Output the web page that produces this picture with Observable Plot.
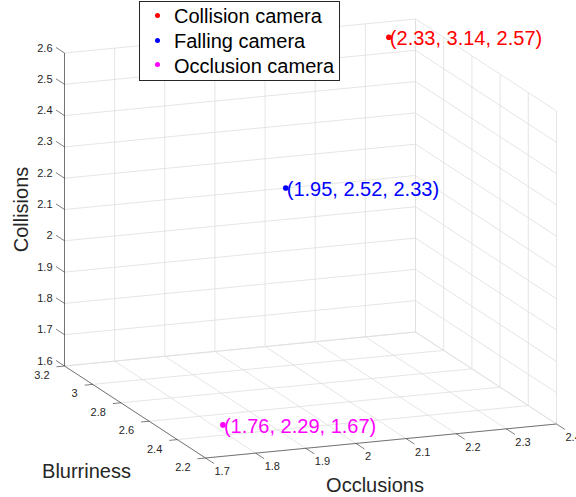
<!DOCTYPE html>
<html><head><meta charset="utf-8">
<script src="https://cdn.jsdelivr.net/npm/d3@7"></script>
<script src="https://cdn.jsdelivr.net/npm/@observablehq/plot@0.6"></script>
<style>
body{margin:0;background:#fff;}
#wrap{position:relative;width:576px;height:497px;font-family:"Liberation Sans",Arial,sans-serif;}
#legend{position:absolute;left:139px;top:1px;width:199px;height:78px;border:1px solid #262626;background:#fff;}
.row{position:absolute;left:0;height:25px;line-height:25px;font-size:20px;color:#000;white-space:nowrap;}
.dot{position:absolute;width:5px;height:5px;border-radius:50%;left:15px;}
.lab{position:absolute;left:34px;top:0;}
</style></head>
<body><div id="wrap"><div id="chart"></div><div id="legend"></div></div>
<script>
// ---- data ----
const cameras = ["Collision camera", "Falling camera", "Occlusion camera"];
const occlusions = [2.33, 1.95, 1.76];
const blurriness = [3.14, 2.52, 2.29];
const collisions = [2.57, 2.33, 1.67];
const colors = ["#ff0000", "#0000ff", "#ff00ff"];

const occTicks = [1.7, 1.8, 1.9, 2.0, 2.1, 2.2, 2.3, 2.4];
const occTickLabels = ["1.7", "1.8", "1.9", "2", "2.1", "2.2", "2.3", "2.4"];
const blurTicks = [2.2, 2.4, 2.6, 2.8, 3.0, 3.2];
const blurTickLabels = ["2.2", "2.4", "2.6", "2.8", "3", "3.2"];
const colTicks = [1.6, 1.7, 1.8, 1.9, 2.0, 2.1, 2.2, 2.3, 2.4, 2.5, 2.6];
const colTickLabels = ["1.6", "1.7", "1.8", "1.9", "2", "2.1", "2.2", "2.3", "2.4", "2.5", "2.6"];

const occDomain = [1.7, 2.4], blurDomain = [2.2, 3.2], colDomain = [1.6, 2.6];

// ---- projection (orthographic view) ----
function mk(domain) {
  if (Plot.scale) { try { const s = Plot.scale({x: {domain, range: [0, 1]}}); return v => s.apply(v); } catch (e) {} }
  const s = d3.scaleLinear().domain(domain).range([0, 1]); return v => s(v);
}
const su = mk(occDomain), sv = mk(blurDomain), sw = mk(colDomain);
const O = [205, 457.5], AX = [351, -34], AY = [-141, -92], AZ = [0, -313];
function P(a, b, c) {
  const u = su(a), v = sv(b), w = sw(c);
  return [O[0] + u * AX[0] + v * AY[0] + w * AZ[0], O[1] + u * AX[1] + v * AY[1] + w * AZ[1]];
}
function seg(p, q, extra = {}) { return {x1: p[0], y1: p[1], x2: q[0], y2: q[1], ...extra}; }

const [x0, x1] = occDomain, [y0, y1] = blurDomain, [z0, z1] = colDomain;
const grid = [];
// back wall (y = max)
occTicks.forEach(x => grid.push(seg(P(x, y1, z0), P(x, y1, z1))));
colTicks.forEach(z => grid.push(seg(P(x0, y1, z), P(x1, y1, z))));
// right wall (x = max)
blurTicks.forEach(y => grid.push(seg(P(x1, y, z0), P(x1, y, z1))));
colTicks.forEach(z => grid.push(seg(P(x1, y0, z), P(x1, y1, z))));
// floor (z = min)
occTicks.forEach(x => grid.push(seg(P(x, y0, z0), P(x, y1, z0))));
blurTicks.forEach(y => grid.push(seg(P(x0, y, z0), P(x1, y, z0))));

const axes = [
  seg(P(x0, y0, z0), P(x1, y0, z0)),
  seg(P(x0, y0, z0), P(x0, y1, z0)),
  seg(P(x0, y1, z0), P(x0, y1, z1))
];
const ticks = [];
occTicks.forEach(x => ticks.push(seg(P(x, y0, z0), P(x, y0 - 0.06, z0))));
blurTicks.forEach(y => ticks.push(seg(P(x0, y, z0), P(x0 - 0.016, y, z0))));
colTicks.forEach(z => ticks.push(seg(P(x0, y1, z), P(x0, y1 + 0.06, z))));

const occLab = occTicks.map((x, i) => { const p = P(x, y0, z0); return {x: p[0], y: p[1], t: occTickLabels[i]}; });
const blurLab = blurTicks.map((y, i) => { const p = P(x0, y, z0); return {x: p[0], y: p[1], t: blurTickLabels[i]}; });
const colLab = colTicks.map((z, i) => { const p = P(x0, y1, z); return {x: p[0], y: p[1], t: colTickLabels[i]}; });

const pts = cameras.map((c, i) => {
  const p = P(occlusions[i], blurriness[i], collisions[i]);
  return {x: p[0], y: p[1], c: colors[i],
    t: `(${occlusions[i].toFixed(2)}, ${blurriness[i].toFixed(2)}, ${collisions[i].toFixed(2)})`};
});

const midZ = P(x0, y1, (z0 + z1) / 2), midY = P(x0, (y0 + y1) / 2, z0), midX = P((x0 + x1) / 2, y0, z0);
const FF = "Liberation Sans, Arial, sans-serif";
const tickStyle = {fontSize: 11, fill: "#262626", fontFamily: FF};

const chart = Plot.plot({
  width: 576, height: 497, margin: 0,
  x: {type: "identity", axis: null}, y: {type: "identity", axis: null},
  style: {fontFamily: FF, background: "#fff"},
  marks: [
    Plot.link(grid, {x1: "x1", y1: "y1", x2: "x2", y2: "y2", stroke: "#dedede", strokeWidth: 0.8}),
    Plot.link(axes, {x1: "x1", y1: "y1", x2: "x2", y2: "y2", stroke: "#262626", strokeWidth: 0.6}),
    Plot.link(ticks, {x1: "x1", y1: "y1", x2: "x2", y2: "y2", stroke: "#262626", strokeWidth: 0.6}),
    Plot.text(occLab, {x: "x", y: "y", text: "t", textAnchor: "start", lineAnchor: "middle", dx: 9, dy: 13.5, ...tickStyle}),
    Plot.text(blurLab, {x: "x", y: "y", text: "t", textAnchor: "end", lineAnchor: "middle", dx: -15, dy: 9.5, ...tickStyle}),
    Plot.text(colLab, {x: "x", y: "y", text: "t", textAnchor: "end", lineAnchor: "middle", dx: -12, dy: -5, ...tickStyle}),
    Plot.text([{x: midZ[0], y: midZ[1]}], {x: "x", y: "y", text: () => "Collisions", rotate: -90, textAnchor: "middle", lineAnchor: "middle", dx: -43, fontSize: 20, fill: "#262626", fontFamily: FF}),
    Plot.text([{x: midY[0], y: midY[1]}], {x: "x", y: "y", text: () => "Blurriness", textAnchor: "middle", lineAnchor: "bottom", dx: -48.5, dy: 65.5, fontSize: 20, fill: "#262626", fontFamily: FF}),
    Plot.text([{x: midX[0], y: midX[1]}], {x: "x", y: "y", text: () => "Occlusions", textAnchor: "middle", lineAnchor: "bottom", dx: -6, dy: 50.5, fontSize: 20, fill: "#262626", fontFamily: FF}),
    Plot.dot(pts, {x: "x", y: "y", r: 2.8, fill: "c", stroke: null}),
    Plot.text(pts, {x: "x", y: "y", text: "t", fill: "c", textAnchor: "start", lineAnchor: "middle", dx: 1, dy: 1.5, fontSize: 20, fontFamily: FF})
  ]
});
document.getElementById("chart").appendChild(chart);

// legend
const lg = document.getElementById("legend");
cameras.forEach((c, i) => {
  const row = document.createElement("div");
  row.className = "row";
  row.style.top = (2 + 24.8 * i) + "px";
  row.style.width = "199px";
  const d = document.createElement("span");
  d.className = "dot"; d.style.background = colors[i]; d.style.top = "8.8px";
  const t = document.createElement("span");
  t.className = "lab"; t.textContent = c;
  row.appendChild(d); row.appendChild(t); lg.appendChild(row);
});
</script></body></html>
